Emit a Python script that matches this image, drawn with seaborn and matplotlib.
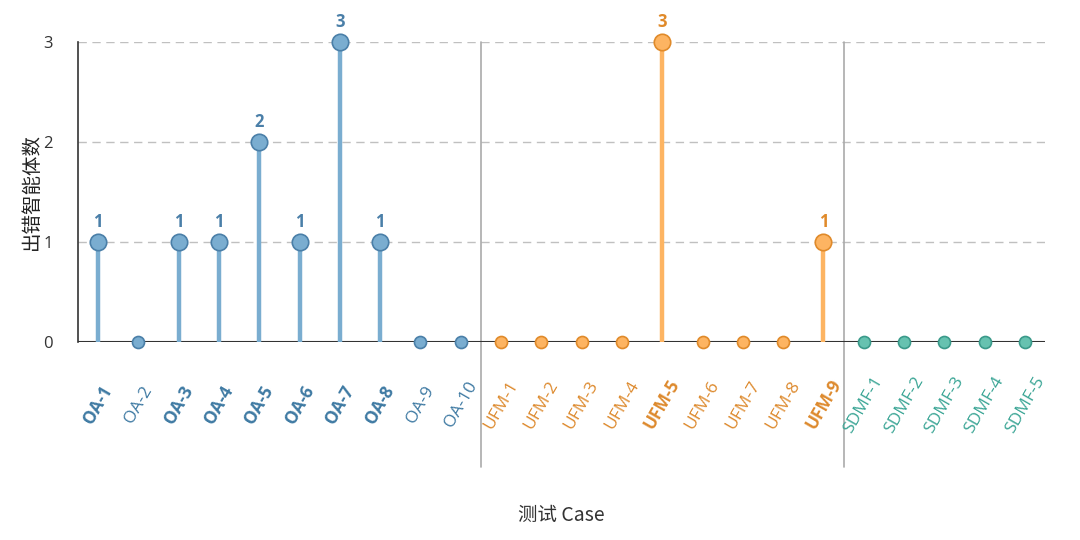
import numpy as np
import pandas as pd
import matplotlib
matplotlib.use("Agg")
import matplotlib.pyplot as plt
import seaborn as sns

oa_cases = [f"OA-{i}" for i in range(1, 11)]
oa_values = [1, 0, 1, 1, 2, 1, 3, 1, 0, 0]
ufm_cases = [f"UFM-{i}" for i in range(1, 10)]
ufm_values = [0, 0, 0, 0, 3, 0, 0, 0, 1]
sdmf_cases = [f"SDMF-{i}" for i in range(1, 6)]
sdmf_values = [0, 0, 0, 0, 0]

groups = ["OA", "UFM", "SDMF"]
face_colors = {"OA": "#7aadd0", "UFM": "#fdb462", "SDMF": "#66c2b0"}
edge_colors = {"OA": "#4a7fa8", "UFM": "#e08a2a", "SDMF": "#3a9a8a"}
text_colors = {"OA": "#3f7aa3", "UFM": "#dd8a2e", "SDMF": "#3aa595"}

df = pd.DataFrame({
    "case": oa_cases + ufm_cases + sdmf_cases,
    "value": oa_values + ufm_values + sdmf_values,
    "group": ["OA"] * len(oa_cases) + ["UFM"] * len(ufm_cases) + ["SDMF"] * len(sdmf_cases),
})
df["pos"] = np.arange(len(df))
df["nz"] = df["value"] > 0

sns.set_theme(style="white")
plt.rcParams["font.family"] = ["Open Sans", "Noto Sans CJK SC", "DejaVu Sans"]

fig = plt.figure(figsize=(10.8, 5.4), dpi=100)
ax = fig.add_axes([78 / 1080, 198 / 540, (1045 - 78) / 1080, 300 / 540])

# grid
for yv in [1, 2, 3]:
    ax.axhline(yv, color="#c0c0c0", lw=1, ls=(0, (6, 4)), zorder=0)

# stems
for g in groups:
    sub = df[(df["group"] == g) & df["nz"]]
    ax.vlines(sub["pos"], 0, sub["value"], color=face_colors[g], lw=3.2, zorder=2)

# baseline
ax.axhline(0, color="#333333", lw=1.5, zorder=1)

# markers
for g in groups:
    for nz, size in [(True, 140), (False, 75)]:
        sub = df[(df["group"] == g) & (df["nz"] == nz)]
        if len(sub) == 0:
            continue
        sns.scatterplot(data=sub, x="pos", y="value", ax=ax, s=size,
                        color=face_colors[g], edgecolor=edge_colors[g],
                        linewidth=1.2, zorder=3, clip_on=False, legend=False)

# annotations
for _, r in df[df["nz"]].iterrows():
    ax.annotate(str(r["value"]), (r["pos"], r["value"]), xytext=(0, 8),
                textcoords="offset points", ha="center", va="bottom",
                fontsize=12, fontweight="bold", color=edge_colors[r["group"]])

# separators
for xs in [len(oa_cases) - 0.5, len(oa_cases) + len(ufm_cases) - 0.5]:
    ax.plot([xs, xs], [3, -1.25], color="#aaaaaa", lw=1.2, clip_on=False, zorder=0)

ax.set_xlim(-0.5, len(df) - 0.5)
ax.set_ylim(0, 3)
ax.set_yticks([0, 1, 2, 3])
ax.set_yticklabels(["0", "1", "2", "3"], fontsize=12, color="#333333")
ax.tick_params(axis="y", length=0, pad=18)

ax.set_xticks(df["pos"])
ax.set_xticklabels(df["case"], rotation=60, ha="center", va="center", fontsize=12.5)
ax.tick_params(axis="x", length=0, pad=45)
for lbl, (_, r) in zip(ax.get_xticklabels(), df.iterrows()):
    lbl.set_color(text_colors[r["group"]])
    if r["nz"]:
        lbl.set_fontweight("bold")

for s in ["top", "right", "bottom"]:
    ax.spines[s].set_visible(False)
ax.spines["left"].set_color("#333333")
ax.spines["left"].set_linewidth(1.2)

ax.set_xlabel("")
ax.set_ylabel("出错智能体数", fontsize=14, color="#222222",
              family=["Noto Sans CJK SC", "DejaVu Sans"], va="center")
ax.yaxis.set_label_coords((31 - 78) / 967, 0.5)
fig.text(561 / 1080, 1 - 515 / 540, "测试 Case", ha="center", va="center",
         fontsize=14, color="#333333", family=["Noto Sans CJK SC", "DejaVu Sans"])

fig.savefig("out.png", dpi=100, facecolor="white")
